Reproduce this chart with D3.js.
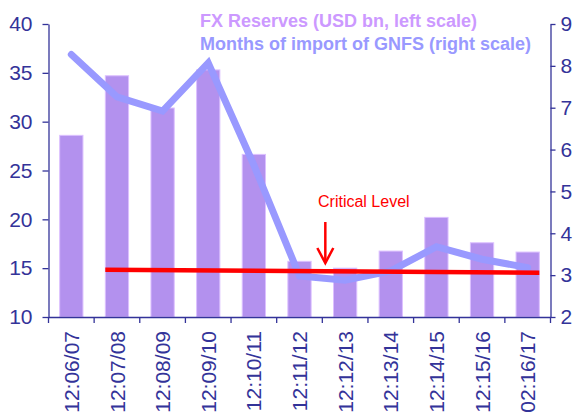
<!DOCTYPE html>
<html>
<head>
<meta charset="utf-8">
<script src="https://cdn.jsdelivr.net/npm/d3@7"></script>
<style>
  body { margin: 0; background: #fff; }
  svg { display: block; font-family: "Liberation Sans", Arial, sans-serif; }
</style>
</head>
<body>
<svg id="chart"></svg>
<script>
var categories = ["12:06/07", "12:07/08", "12:08/09", "12:09/10", "12:10/11", "12:11/12",
                  "12:12/13", "12:13/14", "12:14/15", "12:15/16", "02:16/17"];
var reserves = [28.6, 34.7, 31.4, 35.3, 26.65, 15.7, 15.0, 16.75, 20.2, 17.6, 16.65];
var months = [8.27, 7.26, 6.92, 8.07, 5.63, 2.98, 2.88, 3.1, 3.68, 3.38, 3.18];
var critical = [3.13, 3.06];
var leftTicks = [10, 15, 20, 25, 30, 35, 40];
var rightTicks = [2, 3, 4, 5, 6, 7, 8, 9];

var width = 579, height = 415;
var plotLeft = 48.5, plotRight = 550.5, plotTop = 24, plotBottom = 317;
var axisColor = "#333399";

var svg = d3.select("#chart")
    .attr("width", width)
    .attr("height", height);

var x = d3.scaleBand()
    .domain(categories)
    .range([plotLeft, plotRight]);

var xBar = d3.scaleBand()
    .domain(categories)
    .range([plotLeft, plotRight])
    .paddingInner(0.49)
    .paddingOuter(0.245);

var yL = d3.scaleLinear().domain([10, 40]).range([plotBottom, plotTop]);
var yR = d3.scaleLinear().domain([2, 9]).range([plotBottom, plotTop]);

// bars
svg.append("g")
  .selectAll("rect")
  .data(reserves)
  .enter().append("rect")
    .attr("x", function(d, i) { return xBar(categories[i]); })
    .attr("y", function(d) { return yL(d); })
    .attr("width", xBar.bandwidth())
    .attr("height", function(d) { return plotBottom - yL(d); })
    .attr("fill", "#b391ee")
    .attr("stroke", "#dcc0ff")
    .attr("stroke-width", 1);

// months of import line
var line = d3.line()
    .x(function(d, i) { return x(categories[i]) + x.bandwidth() / 2; })
    .y(function(d) { return yR(d); });

svg.append("path")
    .datum(months)
    .attr("d", line)
    .attr("fill", "none")
    .attr("stroke", "#9999ff")
    .attr("stroke-width", 7)
    .attr("stroke-linecap", "round")
    .attr("stroke-linejoin", "miter");

// critical level line
var critX = [xBar(categories[1]), xBar(categories[categories.length - 1]) + xBar.bandwidth()];
svg.append("line")
    .attr("x1", critX[0])
    .attr("y1", yR(critical[0]))
    .attr("x2", critX[1])
    .attr("y2", yR(critical[1]))
    .attr("stroke", "#ff0000")
    .attr("stroke-width", 4.5);

// arrow + label
var ax = x(categories[6]) + 3, ay1 = 222, ay2 = 263;
svg.append("line")
    .attr("x1", ax).attr("y1", ay1)
    .attr("x2", ax).attr("y2", ay2)
    .attr("stroke", "#ff0000").attr("stroke-width", 2.5);
svg.append("path")
    .attr("d", "M" + (ax - 8) + "," + (ay2 - 15) + "L" + ax + "," + ay2 + "L" + (ax + 8) + "," + (ay2 - 15))
    .attr("fill", "none")
    .attr("stroke", "#ff0000").attr("stroke-width", 2.5);
svg.append("text")
    .attr("x", 318).attr("y", 207)
    .attr("fill", "#ff0000")
    .style("font-size", "16px")
    .text("Critical Level");

// axes
var gL = svg.append("g")
    .attr("transform", "translate(" + plotLeft + ",0)")
    .call(d3.axisLeft(yL).tickValues(leftTicks).tickSize(6).tickSizeOuter(0).tickPadding(10));

var gR = svg.append("g")
    .attr("transform", "translate(" + plotRight + ",0)")
    .call(d3.axisRight(yR).tickValues(rightTicks).tickFormat(d3.format("d"))
        .tickSize(5).tickSizeOuter(0).tickPadding(5));

var gB = svg.append("g")
    .attr("transform", "translate(0," + plotBottom + ")")
    .call(d3.axisBottom(x).tickSize(0).tickSizeOuter(0));

gB.selectAll(".tick text")
    .attr("transform", "rotate(-90)")
    .attr("x", -14)
    .attr("y", 0)
    .attr("dy", "0.36em")
    .style("text-anchor", "end");

// boundary ticks on the category axis
gB.selectAll(".bound")
    .data(categories.concat(["end"]))
    .enter().append("line")
    .attr("class", "bound")
    .attr("x1", function(d, i) { return i < categories.length ? x(d) : plotRight; })
    .attr("x2", function(d, i) { return i < categories.length ? x(d) : plotRight; })
    .attr("y1", 0).attr("y2", 6);

[gL, gR, gB].forEach(function(g) {
  g.selectAll("path, line").attr("stroke", axisColor).attr("stroke-width", 1.3);
  g.selectAll("text")
      .attr("fill", axisColor)
      .style("font-size", "21px")
      .style("font-family", "'Liberation Sans', Arial, sans-serif");
});

// legend
svg.append("text")
    .attr("x", 200).attr("y", 26.5)
    .attr("fill", "#cc99ff")
    .style("font-size", "18px").style("font-weight", "bold")
    .text("FX Reserves (USD bn, left scale)");
svg.append("text")
    .attr("x", 200).attr("y", 50)
    .attr("fill", "#9999ff")
    .style("font-size", "18px").style("font-weight", "bold")
    .text("Months of import of GNFS (right scale)");
</script>
</body>
</html>
